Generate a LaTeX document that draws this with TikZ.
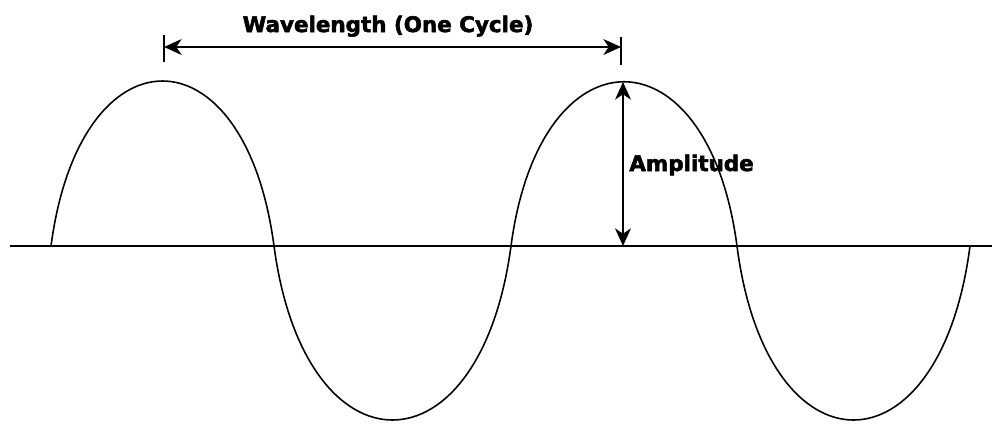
\documentclass[tikz,border=0pt]{standalone}
\usepackage{fontspec}
\setmainfont{DejaVu Sans}[BoldFeatures={FakeBold=2.5}]
\usetikzlibrary{arrows.meta}
\tikzset{
	dimarrow/.style={line width=1.2pt,
		{Stealth[length=10pt,width=9pt,inset=3pt]}-{Stealth[length=10pt,width=9pt,inset=3pt]}},
	dimtext/.style={font=\fontsize{12.2}{14}\selectfont\bfseries, inner sep=0pt},
	wave/.style={line width=0.9pt},
}
\begin{document}
\begin{tikzpicture}[x=0.02cm,y=-0.02cm]
	\useasboundingbox (0,0) rectangle (992,424);
	\def\ybase{246}
	% axis
	\coordinate (axisL) at (10,\ybase);
	\coordinate (axisR) at (992,\ybase);
	\draw[line width=1.6pt] (axisL)--(axisR);
	% the wave, one curve for each half cycle
	\coordinate (zeroA) at (51,\ybase);  \coordinate (zeroB) at (274,\ybase);
	\coordinate (zeroC) at (511,\ybase); \coordinate (zeroD) at (737,\ybase);
	\coordinate (zeroE) at (970,\ybase);
	\draw[wave] (zeroA) .. controls (80,26) and (245,26) .. (zeroB)
	.. controls (305,478) and (480,478) .. (zeroC)
	.. controls (540,27) and (708,27) .. (zeroD)
	.. controls (767,478) and (940,478) .. (zeroE);
	% wavelength
	\coordinate (tickLtop) at (164,35);  \coordinate (tickLbot) at (164,62);
	\coordinate (tickRtop) at (621,37);  \coordinate (tickRbot) at (621,65);
	\draw[line width=1.4pt] (tickLtop)--(tickLbot);
	\draw[line width=1.4pt] (tickRtop)--(tickRbot);
	\coordinate (waveL) at (164,47);
	\coordinate (waveR) at (621,47);
	\draw[dimarrow] (waveL)--(waveR);
	\node[dimtext,anchor=base] (wavelbl) at (388,32) {Wavelength (One Cycle)};
	% amplitude
	\coordinate (peak) at (623,82);
	\coordinate (base) at (623,\ybase);
	\draw[dimarrow] (peak)--(base);
	\node[dimtext,anchor=base west] (amplbl) at (629,171) {Amplitude};
\end{tikzpicture}
\end{document}
